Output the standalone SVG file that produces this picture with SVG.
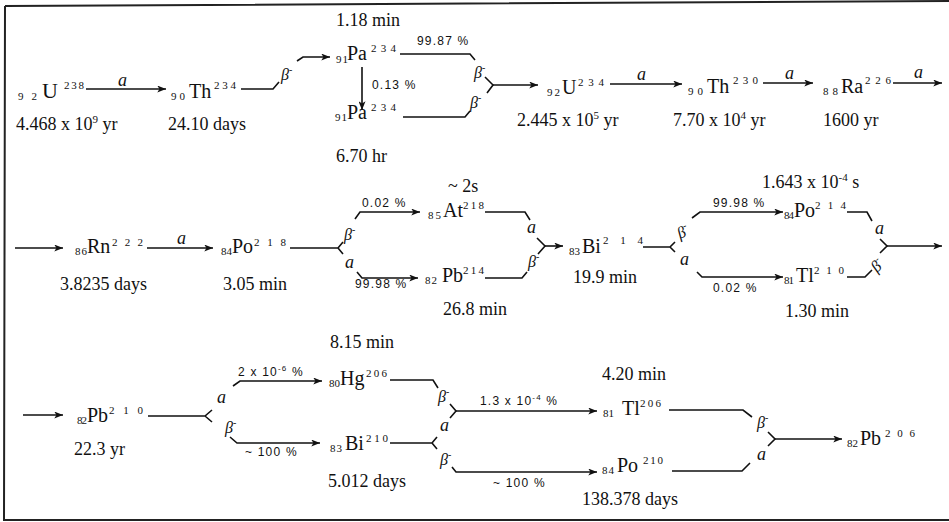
<svg xmlns="http://www.w3.org/2000/svg" width="949" height="522" viewBox="0 0 949 522">
<style>
.el{font-family:"Liberation Serif","Times New Roman",serif;font-size:20px;fill:#111}
.sb,.sp{font-family:"Liberation Serif","Times New Roman",serif;font-size:11px;fill:#111}
.hl{font-family:"Liberation Serif","Times New Roman",serif;font-size:18px;fill:#111}
.hs{font-size:11px}
.pc{font-family:"Liberation Sans",Arial,sans-serif;font-size:12px;letter-spacing:1.2px;fill:#111}
.ps{font-size:8px}
.al{font-family:"Liberation Serif","Times New Roman",serif;font-style:italic;font-size:18px;fill:#111}
.be{font-family:"Liberation Serif","Times New Roman",serif;font-style:italic;font-size:16px;fill:#111}
.bm{font-size:10px;font-style:normal}
.ln{fill:none;stroke:#111;stroke-width:1.6;stroke-linejoin:miter}
.ar{marker-end:url(#ah)}
.frame{fill:none;stroke:#222;stroke-width:2}
</style>
<defs>
<marker id="ah" viewBox="0 0 10 8" refX="10" refY="4" markerWidth="9" markerHeight="7" markerUnits="userSpaceOnUse" orient="auto">
<path d="M0,0 L10,4 L0,8 L2.5,4 z" fill="#111"/>
</marker>
</defs>
<rect x="0" y="0" width="949" height="522" fill="#fff"/>
<g id="frame">
<path class="frame" d="M5,6 L949,1 M5,6 L4,521 M4,520 L949,520"/>
</g>

<g id="connectors">
<!-- row 1 -->
<path class="ln ar" d="M86,89 H166"/>
<path class="ln" d="M241,89 H273 L279,82"/>
<path class="ln ar" d="M297,61 L303,57 H330"/>
<path class="ln" d="M400,54 H470 L475,60"/>
<path class="ln ar" d="M362,67 V110"/>
<path class="ln" d="M403,117 H465 L470,111"/>
<path class="ln" d="M485,77 L493,85 L487,93"/>
<path class="ln ar" d="M493,85 H538"/>
<path class="ln ar" d="M610,84 H682"/>
<path class="ln ar" d="M763,83 H813"/>
<path class="ln ar" d="M893,83 H942"/>
<!-- row 2 -->
<path class="ln ar" d="M15,248 H63"/>
<path class="ln ar" d="M147,248 H213"/>
<path class="ln" d="M290,248 H338 L343,242 M338,248 L343,254"/>
<path class="ln ar" d="M355,219 L360,212 H420"/>
<path class="ln ar" d="M357,272 L362,278 H418"/>
<path class="ln" d="M485,212 H525 L530,220"/>
<path class="ln" d="M485,278 H522 L527,272"/>
<path class="ln" d="M537,238 L545,246 L538,254"/>
<path class="ln ar" d="M545,246 H563"/>
<path class="ln" d="M643,247 H670 L675,242 M670,247 L675,252"/>
<path class="ln ar" d="M692,218 L700,212 H783"/>
<path class="ln ar" d="M697,272 L702,277 H783"/>
<path class="ln" d="M847,212 H867 L872,221"/>
<path class="ln" d="M847,277 H865 L872,270"/>
<path class="ln" d="M880,239 L887,246 L880,253"/>
<path class="ln ar" d="M887,246 H942"/>
<!-- row 3 -->
<path class="ln ar" d="M23,415 H63"/>
<path class="ln" d="M148,416 H205 L212,410 M205,416 L212,422"/>
<path class="ln ar" d="M233,386 L240,381 H322"/>
<path class="ln ar" d="M230,437 L237,443 H320"/>
<path class="ln" d="M390,380 H433 L438,388"/>
<path class="ln" d="M450,404 L456,411 L450,418"/>
<path class="ln ar" d="M456,411 H597"/>
<path class="ln" d="M390,443 H432 L437,437 M432,443 L437,449"/>
<path class="ln ar" d="M452,467 L456,472 H597"/>
<path class="ln" d="M669,410 H743 L752,417"/>
<path class="ln" d="M672,471 H742 L750,463"/>
<path class="ln" d="M768,432 L775,439 L768,446"/>
<path class="ln ar" d="M775,439 H842"/>
</g>

<g id="edge-labels">
<text class="al" x="118" y="86">a</text>
<text class="be" x="281" y="80">β<tspan class="bm" dy="-7">-</tspan></text>
<text class="pc" x="417" y="45">99.87 %</text>
<text class="pc" x="372" y="89">0.13 %</text>
<text class="be" x="474" y="78">β<tspan class="bm" dy="-7">-</tspan></text>
<text class="be" x="470" y="108">β<tspan class="bm" dy="-7">-</tspan></text>
<text class="al" x="637" y="80">a</text>
<text class="al" x="785" y="79">a</text>
<text class="al" x="914" y="78">a</text>

<text class="al" x="177" y="244">a</text>
<text class="be" x="344" y="240">β<tspan class="bm" dy="-7">-</tspan></text>
<text class="pc" x="362" y="207">0.02 %</text>
<text class="al" x="345" y="268">a</text>
<text class="pc" x="355" y="288">99.98 %</text>
<text class="al" x="527" y="233">a</text>
<text class="be" x="528" y="267">β<tspan class="bm" dy="-7">-</tspan></text>
<text class="be" x="680" y="239" transform="rotate(-25 680 239)">β<tspan class="bm" dy="-7">-</tspan></text>
<text class="pc" x="713" y="207">99.98 %</text>
<text class="al" x="680" y="265">a</text>
<text class="pc" x="713" y="292">0.02 %</text>
<text class="al" x="875" y="234">a</text>
<text class="be" x="877" y="273" transform="rotate(-45 877 273)">β<tspan class="bm" dy="-7">-</tspan></text>

<text class="al" x="217" y="403">a</text>
<text class="pc" x="238" y="376">2 x 10<tspan class="ps" dy="-5">-6</tspan><tspan dy="5"> %</tspan></text>
<text class="be" x="225" y="433">β<tspan class="bm" dy="-7">-</tspan></text>
<text class="pc" x="245" y="456">~ 100 %</text>
<text class="be" x="438" y="402">β<tspan class="bm" dy="-7">-</tspan></text>
<text class="pc" x="480" y="405">1.3 x 10<tspan class="ps" dy="-5">-4</tspan><tspan dy="5"> %</tspan></text>
<text class="al" x="440" y="431">a</text>
<text class="be" x="440" y="465">β<tspan class="bm" dy="-7">-</tspan></text>
<text class="pc" x="493" y="487">~ 100 %</text>
<text class="be" x="757" y="428">β<tspan class="bm" dy="-7">-</tspan></text>
<text class="al" x="757" y="460">a</text>
</g>

<g id="n-u238">
<text class="sb" x="18" y="100" textLength="19" lengthAdjust="spacing">92</text>
<text class="el" x="42" y="98" style="font-size:22px">U</text>
<text class="sp" x="64" y="89" textLength="20" lengthAdjust="spacing">238</text>
<text class="hl" x="16" y="130">4.468 x 10<tspan class="hs" dy="-7">9</tspan><tspan dy="7"> yr</tspan></text>
</g>
<g id="n-th234">
<text class="sb" x="171" y="100" textLength="14" lengthAdjust="spacing">90</text>
<text class="el" x="189" y="98">Th</text>
<text class="sp" x="214" y="89" textLength="22" lengthAdjust="spacing">234</text>
<text class="hl" x="168" y="130">24.10 days</text>
</g>
<g id="n-pa234m">
<text class="sb" x="336" y="63" textLength="12" lengthAdjust="spacing">91</text>
<text class="el" x="347" y="60">Pa</text>
<text class="sp" x="371" y="52" textLength="25" lengthAdjust="spacing">234</text>
<text class="hl" x="336" y="26">1.18 min</text>
</g>
<g id="n-pa234">
<text class="sb" x="335" y="121" textLength="12" lengthAdjust="spacing">91</text>
<text class="el" x="347" y="119">Pa</text>
<text class="sp" x="371" y="111" textLength="25" lengthAdjust="spacing">234</text>
<text class="hl" x="336" y="162">6.70 hr</text>
</g>
<g id="n-u234">
<text class="sb" x="547" y="96" textLength="13" lengthAdjust="spacing">92</text>
<text class="el" x="562" y="94">U</text>
<text class="sp" x="578" y="86" textLength="26" lengthAdjust="spacing">234</text>
<text class="hl" x="517" y="126">2.445 x 10<tspan class="hs" dy="-7">5</tspan><tspan dy="7"> yr</tspan></text>
</g>
<g id="n-th230">
<text class="sb" x="688" y="95" textLength="15" lengthAdjust="spacing">90</text>
<text class="el" x="707" y="93">Th</text>
<text class="sp" x="733" y="84" textLength="25" lengthAdjust="spacing">230</text>
<text class="hl" x="673" y="126">7.70 x 10<tspan class="hs" dy="-7">4</tspan><tspan dy="7"> yr</tspan></text>
</g>
<g id="n-ra226">
<text class="sb" x="823" y="95" textLength="15" lengthAdjust="spacing">88</text>
<text class="el" x="841" y="93">Ra</text>
<text class="sp" x="865" y="84" textLength="26" lengthAdjust="spacing">226</text>
<text class="hl" x="823" y="126">1600 yr</text>
</g>

<g id="n-rn222">
<text class="sb" x="75" y="255" textLength="12" lengthAdjust="spacing">86</text>
<text class="el" x="87" y="253">Rn</text>
<text class="sp" x="112" y="246" textLength="31" lengthAdjust="spacing">222</text>
<text class="hl" x="60" y="290">3.8235 days</text>
</g>
<g id="n-po218">
<text class="sb" x="221" y="255" textLength="11" lengthAdjust="spacing">84</text>
<text class="el" x="232" y="253">Po</text>
<text class="sp" x="254" y="246" textLength="32" lengthAdjust="spacing">218</text>
<text class="hl" x="223" y="290">3.05 min</text>
</g>
<g id="n-at218">
<text class="sb" x="428" y="219" textLength="13" lengthAdjust="spacing">85</text>
<text class="el" x="443" y="217">At</text>
<text class="sp" x="463" y="209" textLength="21" lengthAdjust="spacing">218</text>
<text class="hl" x="448" y="192">~ 2s</text>
</g>
<g id="n-pb214">
<text class="sb" x="425" y="284" textLength="12" lengthAdjust="spacing">82</text>
<text class="el" x="442" y="282">Pb</text>
<text class="sp" x="463" y="274" textLength="21" lengthAdjust="spacing">214</text>
<text class="hl" x="443" y="315">26.8 min</text>
</g>
<g id="n-bi214">
<text class="sb" x="569" y="255" textLength="11" lengthAdjust="spacing">83</text>
<text class="el" x="582" y="253">Bi</text>
<text class="sp" x="603" y="244" textLength="40" lengthAdjust="spacing">214</text>
<text class="hl" x="573" y="283">19.9 min</text>
</g>
<g id="n-po214">
<text class="sb" x="784" y="219" textLength="10" lengthAdjust="spacing">84</text>
<text class="el" x="794" y="217">Po</text>
<text class="sp" x="815" y="209" textLength="31" lengthAdjust="spacing">214</text>
<text class="hl" x="762" y="188">1.643 x 10<tspan class="hs" dy="-7">-4</tspan><tspan dy="7"> s</tspan></text>
</g>
<g id="n-tl210">
<text class="sb" x="784" y="284" textLength="10" lengthAdjust="spacing">81</text>
<text class="el" x="796" y="282">Tl</text>
<text class="sp" x="814" y="274" textLength="30" lengthAdjust="spacing">210</text>
<text class="hl" x="785" y="317">1.30 min</text>
</g>

<g id="n-pb210">
<text class="sb" x="77" y="424" textLength="10" lengthAdjust="spacing">82</text>
<text class="el" x="87" y="422">Pb</text>
<text class="sp" x="109" y="414" textLength="34" lengthAdjust="spacing">210</text>
<text class="hl" x="74" y="455">22.3 yr</text>
</g>
<g id="n-hg206">
<text class="sb" x="329" y="387" textLength="11" lengthAdjust="spacing">80</text>
<text class="el" x="340" y="385">Hg</text>
<text class="sp" x="366" y="377" textLength="21" lengthAdjust="spacing">206</text>
<text class="hl" x="330" y="348">8.15 min</text>
</g>
<g id="n-bi210">
<text class="sb" x="330" y="452" textLength="12" lengthAdjust="spacing">83</text>
<text class="el" x="345" y="450">Bi</text>
<text class="sp" x="366" y="442" textLength="22" lengthAdjust="spacing">210</text>
<text class="hl" x="328" y="487">5.012 days</text>
</g>
<g id="n-tl206">
<text class="sb" x="603" y="417" textLength="11" lengthAdjust="spacing">81</text>
<text class="el" x="622" y="415">Tl</text>
<text class="sp" x="640" y="407" textLength="21" lengthAdjust="spacing">206</text>
<text class="hl" x="602" y="380">4.20 min</text>
</g>
<g id="n-po210">
<text class="sb" x="602" y="474" textLength="12" lengthAdjust="spacing">84</text>
<text class="el" x="617" y="472">Po</text>
<text class="sp" x="643" y="464" textLength="20" lengthAdjust="spacing">210</text>
<text class="hl" x="582" y="505">138.378 days</text>
</g>
<g id="n-pb206">
<text class="sb" x="847" y="447" textLength="11" lengthAdjust="spacing">82</text>
<text class="el" x="860" y="445">Pb</text>
<text class="sp" x="885" y="437" textLength="30" lengthAdjust="spacing">206</text>
</g>
</svg>
